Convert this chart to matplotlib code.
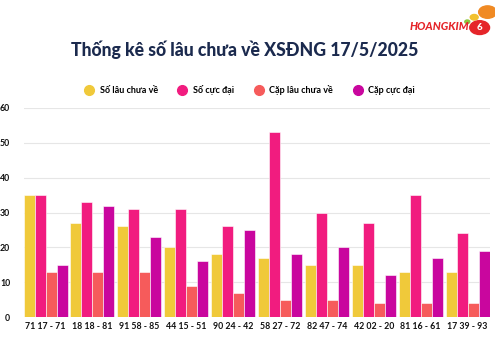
import numpy as np
import matplotlib.pyplot as plt
from matplotlib.lines import Line2D
from matplotlib.patches import Circle

plt.rcParams.update({"font.family": ["Lato", "DejaVu Sans"], "font.weight": "bold"})

groups = ["71 17 - 71", "18 18 - 81", "91 58 - 85", "44 15 - 51", "90 24 - 42",
          "58 27 - 72", "82 47 - 74", "42 02 - 20", "81 16 - 61", "17 39 - 93"]
so_lau = [35, 27, 26, 20, 18, 17, 15, 15, 13, 13]
so_cuc_dai = [35, 33, 31, 31, 26, 53, 30, 27, 35, 24]
cap_lau = [13, 13, 13, 9, 7, 5, 5, 4, 4, 4]
cap_cuc_dai = [15, 32, 23, 16, 25, 18, 20, 12, 17, 19]

series = [
    ("Số lâu chưa về", so_lau, "#f0c93a"),
    ("Số cực đại", so_cuc_dai, "#f11c7f"),
    ("Cặp lâu chưa về", cap_lau, "#f65b5b"),
    ("Cặp cực đại", cap_cuc_dai, "#c9069e"),
]

fig = plt.figure(figsize=(4.95, 3.45), dpi=100)
ax = fig.add_axes([0.0485, 0.081, 0.9415, 0.606])

x = np.arange(len(groups))
w = 0.235
for i, (name, vals, col) in enumerate(series):
    ax.bar(x + (i - 1.5) * w, vals, w, color=col, edgecolor="white", linewidth=0.4, zorder=3)

ax.set_xlim(-0.46, 9.48)
ax.set_ylim(0, 60)
ax.set_yticks(range(0, 61, 10))
ax.yaxis.grid(True, color="#e6e6e6", linewidth=0.8, zorder=0)
ax.set_xticks(x)
ax.set_xticklabels(groups)
ax.tick_params(length=0, labelsize=6.3, colors="#111111")
ax.tick_params(axis="y", pad=10)
for lab in ax.get_xticklabels() + ax.get_yticklabels():
    lab.set_fontweight("bold")
for s in ax.spines.values():
    s.set_visible(False)

fig.text(0.495, 0.855, "Thống kê số lâu chưa về XSĐNG 17/5/2025", ha="center", va="center",
         fontsize=12.7, fontweight="black", color="#1b2a4e")

handles = [Line2D([], [], marker="o", linestyle="", markersize=7, color=c) for _, _, c in series]
fig.legend(handles, [s[0] for s in series], loc="center", bbox_to_anchor=(0.5, 0.738), ncol=4,
           frameon=False, handletextpad=0.2, columnspacing=1.7,
           prop={"weight": "bold", "size": 6.5})

# logo
fig.text(0.948, 0.922, "HOANGKIM", fontsize=8, fontweight="black", style="italic",
         color="#e5252a", ha="right", va="center")
fig.patches.append(Circle((0.985, 0.965), 0.018, transform=fig.transFigure, color="#f08a24"))
fig.patches.append(Circle((0.958, 0.95), 0.008, transform=fig.transFigure, color="#f2c12e"))
fig.patches.append(Circle((0.944, 0.937), 0.005, transform=fig.transFigure, color="#8dc63f"))
fig.patches.append(Circle((0.969, 0.92), 0.02, transform=fig.transFigure, color="#e5252a"))
fig.text(0.969, 0.92, "6", fontsize=7, fontweight="black", color="white", ha="center", va="center")

plt.savefig("out.png", dpi=100)
